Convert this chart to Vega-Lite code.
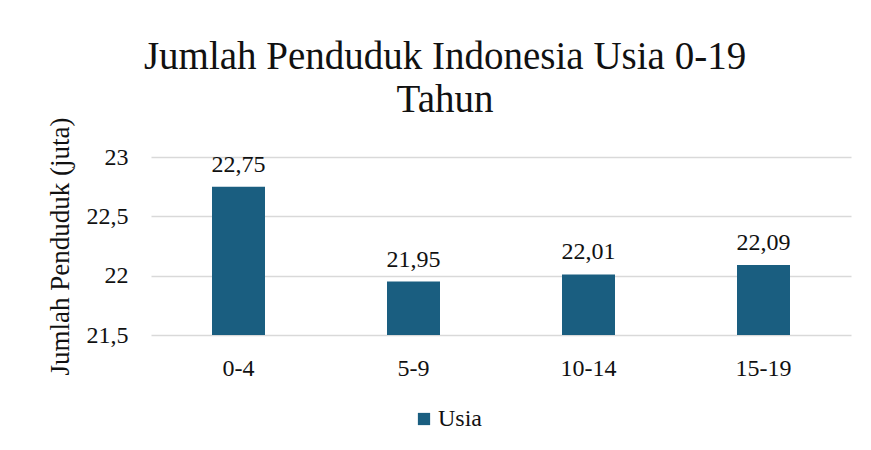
{
  "$schema": "https://vega.github.io/schema/vega-lite/v6.json",
  "width": 700,
  "height": 178,
  "autosize": "none",
  "padding": {"left": 151, "top": 157, "right": 20, "bottom": 115},
  "background": "white",
  "title": {
    "text": ["Jumlah Penduduk Indonesia Usia 0-19", "Tahun"],
    "fontSize": 39,
    "fontWeight": "normal",
    "color": "#111111",
    "anchor": "middle",
    "dx": -56,
    "offset": -3,
    "lineHeight": 43
  },
  "data": {
    "values": [
      {"usia": "0-4", "jumlah": 22.75, "series": "Usia"},
      {"usia": "5-9", "jumlah": 21.95, "series": "Usia"},
      {"usia": "10-14", "jumlah": 22.01, "series": "Usia"},
      {"usia": "15-19", "jumlah": 22.09, "series": "Usia"}
    ]
  },
  "encoding": {
    "x": {
      "field": "usia",
      "type": "nominal",
      "sort": null,
      "title": null,
      "scale": {"paddingInner": 0, "paddingOuter": 0},
      "axis": {
        "labelAngle": 0,
        "domain": false,
        "ticks": false,
        "labelPadding": 21,
        "labelFontSize": 24,
        "labelColor": "#111111"
      }
    },
    "y": {
      "field": "jumlah",
      "type": "quantitative",
      "scale": {"domain": [21.5, 23], "zero": false, "nice": false},
      "title": "Jumlah Penduduk (juta)",
      "axis": {
        "values": [21.5, 22, 22.5, 23],
        "format": ".1~f",
        "domain": false,
        "ticks": false,
        "grid": true,
        "gridColor": "#d9d9d9",
        "gridWidth": 1.5,
        "labelPadding": 23,
        "labelFontSize": 24,
        "labelColor": "#111111",
        "titleFontSize": 27,
        "titleFontWeight": "normal",
        "titleColor": "#111111",
        "titlePadding": 12
      }
    }
  },
  "layer": [
    {
      "mark": {"type": "bar", "size": 53, "clip": true},
      "encoding": {
        "color": {
          "field": "series",
          "type": "nominal",
          "scale": {"range": ["#1a5e80"]},
          "legend": {
            "title": null,
            "orient": "none",
            "legendX": 261,
            "legendY": 250,
            "symbolType": "square",
            "symbolSize": 150,
            "symbolStrokeWidth": 0,
            "labelFontSize": 24,
            "labelColor": "#111111",
            "labelOffset": 2
          }
        }
      }
    },
    {
      "mark": {
        "type": "text",
        "baseline": "alphabetic",
        "dy": -15,
        "fontSize": 24,
        "color": "#111111"
      },
      "encoding": {
        "text": {"field": "jumlah", "type": "quantitative", "format": ".2f"}
      }
    }
  ],
  "config": {
    "font": "Liberation Serif",
    "title": {"font": "Liberation Serif"},
    "text": {"font": "Liberation Serif"},
    "axis": {"labelFont": "Liberation Serif", "titleFont": "Liberation Serif"},
    "legend": {"labelFont": "Liberation Serif"},
    "view": {"stroke": null},
    "locale": {
      "number": {"decimal": ",", "thousands": ".", "grouping": [3], "currency": ["", ""]}
    }
  }
}
